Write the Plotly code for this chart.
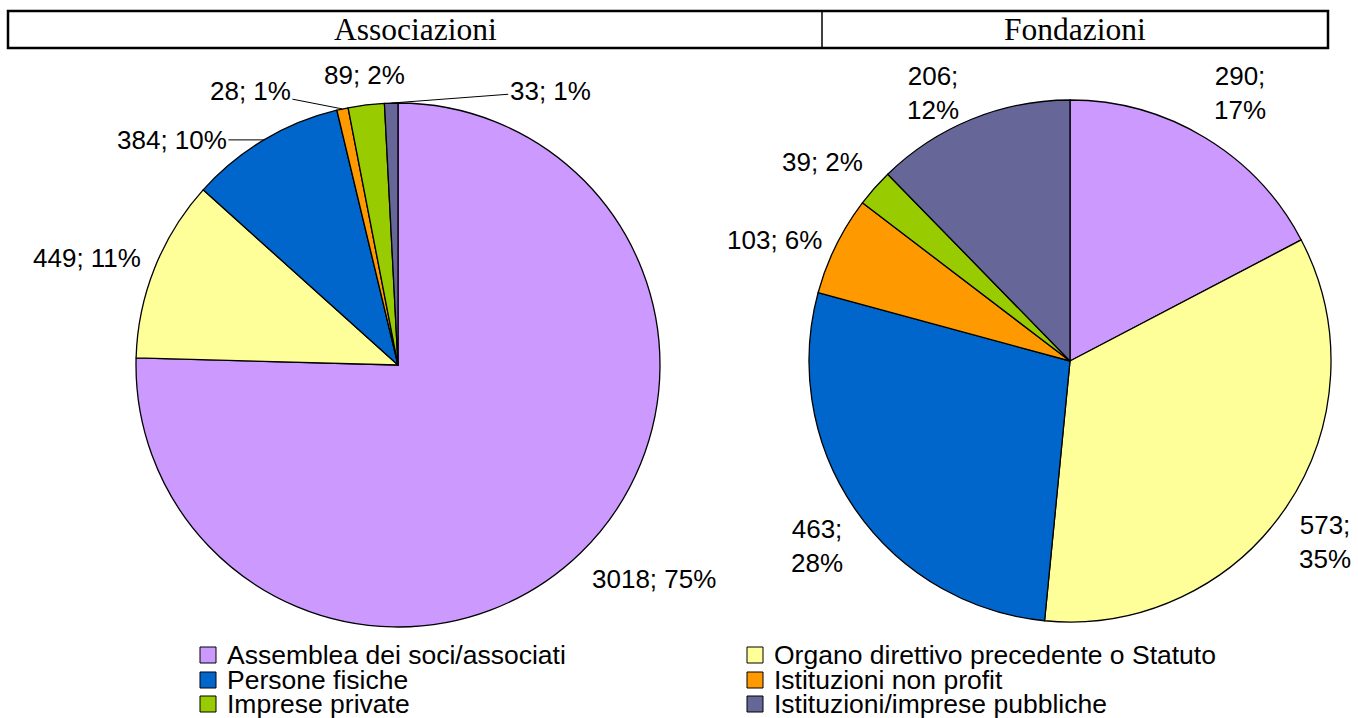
import math
import plotly.graph_objects as go

# Data
categories = [
    "Assemblea dei soci/associati",
    "Organo direttivo precedente o Statuto",
    "Persone fisiche",
    "Istituzioni non profit",
    "Imprese private",
    "Istituzioni/imprese pubbliche",
]
colors = ["#CC99FF", "#FFFF99", "#0066CC", "#FF9900", "#99CC00", "#666699"]

assoc_values = [3018, 449, 384, 28, 89, 33]
assoc_pct = [75, 11, 10, 1, 2, 1]
fond_values = [290, 573, 463, 103, 39, 206]
fond_pct = [17, 35, 28, 6, 2, 12]
panel_titles = ["Associazioni", "Fondazioni"]

# Layout (pixels)
W, H = 1358, 718
SANS = "Liberation Sans, Arial, sans-serif"
SERIF = "Liberation Serif, Times New Roman, serif"
LABEL_SIZE = 26
LEGEND_SIZE = 26.5
GAP = 13

pies = [
    dict(values=assoc_values, pct=assoc_pct, cx=398, cy=365, r=262,
         wrap=set(), nudge={1: (0, -5)},
         leaders={2: (-92, 0), 3: (-92, -18), 5: (159, -12)}),
    dict(values=fond_values, pct=fond_pct, cx=1070, cy=361, r=261,
         wrap={0, 1, 2, 5}, nudge={1: (0, -6), 2: (0, -5), 5: (-6, 20)}, leaders={}),
]


def px(x):
    return x / W


def py(y):
    return 1 - y / H


fig = go.Figure()
annotations = []
shapes = []

for p in pies:
    cx, cy, r = p["cx"], p["cy"], p["r"]
    fig.add_trace(go.Pie(
        values=p["values"], labels=categories, sort=False,
        direction="clockwise", rotation=0,
        marker=dict(colors=colors, line=dict(color="black", width=1.3)),
        textinfo="none", showlegend=False,
        domain=dict(x=[px(cx - r), px(cx + r)], y=[py(cy + r), py(cy - r)]),
    ))

    total = sum(p["values"])
    cum = 0
    for i, v in enumerate(p["values"]):
        mid = 2 * math.pi * (cum + v / 2) / total
        cum += v
        s, c = math.sin(mid), math.cos(mid)
        sep = "<br>" if i in p["wrap"] else " "
        text = f"{v};{sep}{p['pct'][i]}%"
        font = dict(family=SANS, size=LABEL_SIZE, color="black")
        if i in p["leaders"]:
            ax, ay = p["leaders"][i]
            annotations.append(dict(
                x=px(cx + r * s), y=py(cy - r * c), xref="paper", yref="paper",
                text=text, showarrow=True, arrowhead=0, arrowwidth=1,
                arrowcolor="black", ax=ax, ay=ay, font=font))
        else:
            dx, dy = p["nudge"].get(i, (0, 0))
            xa = "left" if s > 0.15 else ("right" if s < -0.15 else "center")
            if abs(c) < 0.5:
                ya = "middle"
            else:
                ya = "bottom" if c > 0 else "top"
            annotations.append(dict(
                x=px(cx + (r + GAP) * s + dx), y=py(cy - (r + GAP) * c + dy),
                xref="paper", yref="paper", xanchor=xa, yanchor=ya,
                text=text, showarrow=False, font=font, align="center"))

# header boxes
box_l, box_r, box_t, box_b, divider = 8, 1328, 11, 48, 822
shapes.append(dict(type="rect", xref="paper", yref="paper",
                   x0=px(box_l), x1=px(box_r), y0=py(box_b), y1=py(box_t),
                   line=dict(color="black", width=2.5)))
shapes.append(dict(type="line", xref="paper", yref="paper",
                   x0=px(divider), x1=px(divider), y0=py(box_b), y1=py(box_t),
                   line=dict(color="black", width=1.5)))
for title, (a, b) in zip(panel_titles, [(box_l, divider), (divider, box_r)]):
    annotations.append(dict(
        x=px((a + b) / 2), y=py((box_t + box_b) / 2), xref="paper", yref="paper",
        text=title, showarrow=False, xanchor="center", yanchor="middle",
        font=dict(family=SERIF, size=31.5, color="black")))

# legend (two columns, row-major)
col_x = [200, 747]
row_y = [655, 680, 704]
sq = 16
for k, (name, col) in enumerate(zip(categories, colors)):
    x0 = col_x[k % 2]
    yc = row_y[k // 2]
    shapes.append(dict(type="rect", xref="paper", yref="paper",
                       x0=px(x0), x1=px(x0 + sq), y0=py(yc + sq / 2), y1=py(yc - sq / 2),
                       fillcolor=col, line=dict(color="black", width=1)))
    annotations.append(dict(
        x=px(x0 + sq + 9), y=py(yc), xref="paper", yref="paper",
        text=name, showarrow=False, xanchor="left", yanchor="middle",
        font=dict(family=SANS, size=LEGEND_SIZE, color="black")))

fig.update_layout(
    width=W, height=H,
    margin=dict(l=0, r=0, t=0, b=0),
    paper_bgcolor="white", plot_bgcolor="white",
    annotations=annotations, shapes=shapes,
)

fig.write_html("out.html", config={"displayModeBar": False},
               post_script="document.body.style.margin='0';document.body.style.overflow='hidden';")
